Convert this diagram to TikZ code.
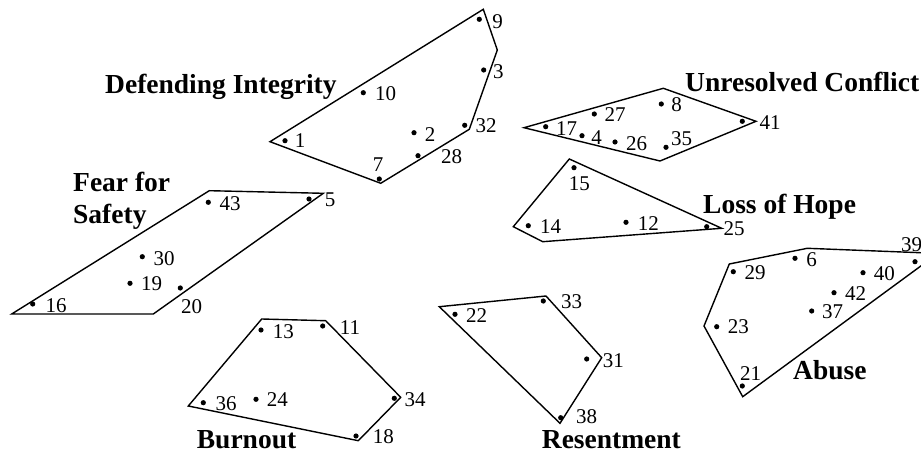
\documentclass[tikz,border=0pt]{standalone}
\usepackage{fontspec}
\setmainfont{Liberation Serif}
\tikzset{
  hull/.style={draw, line width=1.4pt, line join=miter},
  pdot/.style={circle, fill, inner sep=0pt, minimum size=5.2pt},
  num/.style={inner sep=0pt, font=\fontsize{21}{25}\selectfont},
  grp/.style={inner sep=0pt, anchor=base west, font=\bfseries\fontsize{27.5}{31}\selectfont},
}
\newcommand\pp[5]{\node[pdot] (p#1) at (#2,#3) {}; \node[num] (l#1) at (#4,#5) {#1};}
\begin{document}
\begin{tikzpicture}[x=1pt,y=-1pt]
\useasboundingbox (0,0) rectangle (921,454);
% points
\pp{1}{285}{140.7}{300}{141}
\pp{2}{414}{132.7}{430}{135}
\pp{3}{483.7}{70}{498.3}{71.7}
\pp{4}{582}{135.7}{596.7}{137.3}
\pp{5}{309}{199}{330}{200}
\pp{6}{795}{258.3}{811.7}{260}
\pp{7}{379.3}{179}{378}{165}
\pp{8}{661.3}{104}{676.7}{105}
\pp{9}{479.3}{19.3}{497.7}{21.7}
\pp{10}{363.3}{92.7}{385.5}{94}
\pp{11}{322.7}{326}{350}{327.3}
\pp{12}{626}{222.3}{648.3}{223.3}
\pp{13}{261}{330}{283.3}{331.7}
\pp{14}{528.3}{225.7}{550.7}{226.7}
\pp{15}{574}{167.7}{579.3}{183.3}
\pp{16}{32.7}{304}{56}{305.7}
\pp{17}{545.7}{126.7}{566.7}{128.3}
\pp{18}{356}{436}{383.3}{436.7}
\pp{19}{130}{283.3}{151.7}{284}
\pp{20}{180.3}{288}{191.7}{306.7}
\pp{21}{742.3}{386}{750.7}{373.3}
\pp{22}{455}{314.3}{476.7}{315.7}
\pp{23}{716.7}{326.7}{738.3}{326.7}
\pp{24}{256}{399.3}{277.3}{400}
\pp{25}{706.7}{226.7}{734}{228.3}
\pp{26}{615}{142}{636.7}{143.3}
\pp{27}{594.3}{114}{615}{115}
\pp{28}{418}{155.7}{451.7}{156.7}
\pp{29}{733.3}{271.7}{755}{272.3}
\pp{30}{142.3}{256.7}{164}{258.3}
\pp{31}{586.7}{359}{613.3}{361}
\pp{32}{464.7}{125.3}{486}{125.7}
\pp{33}{543.3}{301}{571.7}{301.7}
\pp{34}{394.3}{398.3}{415}{399.3}
\pp{35}{666}{147.3}{681.7}{139}
\pp{36}{203.3}{402.7}{226}{404}
\pp{37}{811.7}{311}{832.7}{311.7}
\pp{38}{560.7}{417.7}{586.7}{416.5}
\pp{39}{915}{261.7}{911.7}{245}
\pp{40}{863}{272.7}{884.3}{273.3}
\pp{41}{742.3}{121.3}{770}{122.7}
\pp{42}{834}{292.7}{855.7}{293.3}
\pp{43}{208.3}{202.3}{230}{204}
% hull vertices
\coordinate (di1) at (270,141.7);
\coordinate (di2) at (483.3,9.3);
\coordinate (di3) at (497.3,50);
\coordinate (di4) at (469.3,129.3);
\coordinate (di5) at (380.7,183.3);
\coordinate (uc1) at (524,127.7);
\coordinate (uc2) at (663.3,88.3);
\coordinate (uc3) at (756,121.3);
\coordinate (uc4) at (660,161);
\coordinate (lh1) at (569.3,159);
\coordinate (lh2) at (721.7,228.3);
\coordinate (lh3) at (542.7,241.7);
\coordinate (lh4) at (513.3,226.7);
\coordinate (fs1) at (209.3,190.7);
\coordinate (fs2) at (323.3,193.3);
\coordinate (fs3) at (153.3,314);
\coordinate (fs4) at (11.7,314);
\coordinate (bo1) at (261.7,319);
\coordinate (bo2) at (325.7,320.7);
\coordinate (bo3) at (400.7,397.3);
\coordinate (bo4) at (358.3,440.7);
\coordinate (bo5) at (188.3,406);
\coordinate (re1) at (439.3,306.7);
\coordinate (re2) at (546,296);
\coordinate (re3) at (601.7,357.7);
\coordinate (re4) at (560,423.3);
\coordinate (ab1) at (729.3,264);
\coordinate (ab2) at (807.3,248.3);
\coordinate (ab3) at (938,253.4);
\coordinate (ab4) at (742.7,396.7);
\coordinate (ab5) at (704,326);
\draw[hull] (di1) -- (di2) -- (di3) -- (di4) -- (di5) -- cycle;
\draw[hull] (uc1) -- (uc2) -- (uc3) -- (uc4) -- cycle;
\draw[hull] (lh1) -- (lh2) -- (lh3) -- (lh4) -- cycle;
\draw[hull] (fs1) -- (fs2) -- (fs3) -- (fs4) -- cycle;
\draw[hull] (bo1) -- (bo2) -- (bo3) -- (bo4) -- (bo5) -- cycle;
\draw[hull] (re1) -- (re2) -- (re3) -- (re4) -- cycle;
\draw[hull] (ab1) -- (ab2) -- (ab3) -- (ab4) -- (ab5) -- cycle;
% group labels
\node[grp] (tDI) at (105,93.3) {Defending Integrity};
\node[grp] (tUC) at (685,91.7) {Unresolved Conflict};
\node[grp] (tFS1) at (73,191.7) {Fear for};
\node[grp] (tFS2) at (73,223.3) {Safety};
\node[grp] (tLH) at (703,213.3) {Loss of Hope};
\node[grp] (tAB) at (793,379.3) {Abuse};
\node[grp] (tBO) at (196.7,448.5) {Burnout};
\node[grp] (tRE) at (541.7,448.8) {Resentment};
\end{tikzpicture}
\end{document}
